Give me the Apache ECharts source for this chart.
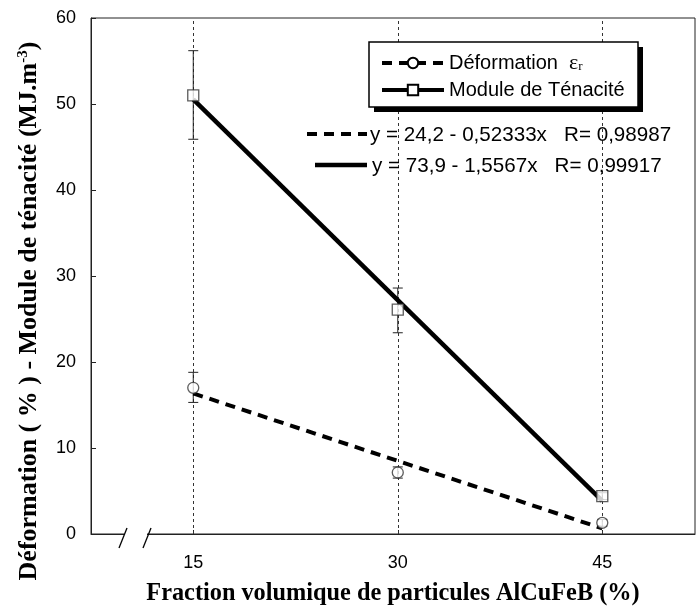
<!DOCTYPE html>
<html>
<head>
<meta charset="utf-8">
<script src="https://cdn.jsdelivr.net/npm/echarts@6/dist/echarts.min.js"></script>
<style>
html,body{margin:0;padding:0;background:#fff;}
#c{width:698px;height:611px;}
</style>
</head>
<body>
<div id="c"></div>
<script>
// ---- data ----
const xValues = [15, 30, 45];
const xTickLabels = [15, 30, 45];
const deformation = [17.0, 7.15, 1.3];
const deformationLow = [15.3, 6.5, 0.9];
const deformationHigh = [18.8, 7.8, 1.7];
const tenacite = [51.0, 26.1, 4.4];
const tenaciteLow = [45.9, 23.4, 4.0];
const tenaciteHigh = [56.2, 28.6, 4.8];
const fitX = [15, 45];
const deformationFit = [16.35, 0.65];
const tenaciteFit = [50.55, 3.85];
const seriesNames = ['Déformation', 'Module de Ténacité'];
const equationLabels = ['y = 24,2 - 0,52333x   R= 0,98987', 'y = 73,9 - 1,5567x   R= 0,99917'];
const yTitle = 'Déformation ( % ) - Module de ténacité (MJ.m';
const xTitle = 'Fraction volumique de particules AlCuFeB (%)';

const chart = echarts.init(document.getElementById('c'), null, {renderer: 'canvas'});

const pts = (ys) => xValues.map((x, i) => [x, ys[i]]);
const fit = (ys) => fitX.map((x, i) => [x, ys[i]]);
const errs = (lo, hi) => xValues.map((x, i) => [x, lo[i], hi[i]]);

function errRender(params, api) {
  const x = api.value(0);
  const p1 = api.coord([x, api.value(1)]);
  const p2 = api.coord([x, api.value(2)]);
  const w = 5;
  const st = {stroke: '#222', lineWidth: 1};
  return {
    type: 'group',
    children: [
      {type: 'line', shape: {x1: p1[0], y1: p1[1], x2: p2[0], y2: p2[1]}, style: st},
      {type: 'line', shape: {x1: p1[0] - w, y1: p1[1], x2: p1[0] + w, y2: p1[1]}, style: st},
      {type: 'line', shape: {x1: p2[0] - w, y1: p2[1], x2: p2[0] + w, y2: p2[1]}, style: st}
    ]
  };
}

const sans = 'Liberation Sans';
const serif = 'Liberation Serif';

const option = {
  backgroundColor: '#fff',
  animation: false,
  grid: {left: 91, right: 3, top: 18, bottom: 73, show: true, borderColor: '#222', borderWidth: 1, backgroundColor: 'transparent'},
  legend: {
    left: 380, top: 52, orient: 'vertical', padding: 0, itemGap: 6,
    itemWidth: 62, itemHeight: 13, selectedMode: false, z: 6,
    data: seriesNames,
    lineStyle: {width: 4},
    textStyle: {fontFamily: sans, fontSize: 20, color: '#000', lineHeight: 20,
      rich: {
        t: {fontFamily: sans, fontSize: 20, color: '#000', lineHeight: 20},
        e: {fontFamily: serif, fontSize: 22, color: '#000', lineHeight: 20},
        r: {fontFamily: serif, fontSize: 13, color: '#000', verticalAlign: 'bottom', lineHeight: 14}
      }},
    formatter: (n) => n === seriesNames[0] ? '{t|' + n + '  }{e|ε}{r|r}' : '{t|' + n + '}'
  },
  xAxis: {
    type: 'value', min: 7.5, max: 51.8,
    axisLine: {show: true, lineStyle: {color: '#222', width: 1}},
    axisTick: {show: true, inside: true, length: 4, customValues: xTickLabels, lineStyle: {color: '#222'}},
    axisLabel: {customValues: xTickLabels, fontFamily: sans, fontSize: 18, color: '#000', margin: 20},
    splitLine: {show: false},
    name: xTitle, nameLocation: 'middle', nameGap: 48,
    nameTextStyle: {fontFamily: serif, fontWeight: 'bold', fontSize: 24.3, color: '#000'}
  },
  yAxis: {
    type: 'value', min: 0, max: 60, interval: 10,
    axisLine: {show: true, lineStyle: {color: '#222', width: 1}},
    axisTick: {show: true, inside: true, length: 5, lineStyle: {color: '#222'}},
    axisLabel: {fontFamily: sans, fontSize: 18, color: '#000', margin: 15},
    splitLine: {show: false},
    name: '{a|' + yTitle + '}{s|-3}{a|)}', nameLocation: 'middle', nameGap: 49,
    nameTextStyle: {padding: [0, 70, 0, 0], rich: {
      a: {fontFamily: serif, fontWeight: 'bold', fontSize: 26, color: '#000'},
      s: {fontFamily: serif, fontWeight: 'bold', fontSize: 15, color: '#000', verticalAlign: 'top'}
    }}
  },
  series: [
    {
      name: seriesNames[0], type: 'line', data: fit(deformationFit),
      symbol: 'emptyCircle', showSymbol: false, z: 3,
      itemStyle: {color: '#000'},
      lineStyle: {color: '#000', width: 4, type: [10, 7]},
      markLine: {
        silent: true, symbol: 'none', label: {show: false}, z: 1,
        lineStyle: {color: '#333', width: 1, type: [3, 3]},
        data: xValues.map(v => ({xAxis: v}))
      }
    },
    {
      name: seriesNames[1], type: 'line', data: fit(tenaciteFit),
      symbol: 'emptyRect', showSymbol: false, z: 3,
      itemStyle: {color: '#000'},
      lineStyle: {color: '#000', width: 4.5, type: 'solid'}
    },
    {name: seriesNames[0], type: 'custom', renderItem: errRender, data: errs(deformationLow, deformationHigh), z: 2, encode: {x: 0, y: [1, 2]}},
    {name: seriesNames[1], type: 'custom', renderItem: errRender, data: errs(tenaciteLow, tenaciteHigh), z: 2, encode: {x: 0, y: [1, 2]}},
    {
      name: seriesNames[0], type: 'scatter', data: pts(deformation), symbol: 'circle', symbolSize: 11, z: 5,
      itemStyle: {color: '#fff', borderColor: '#333', borderWidth: 1.3}
    },
    {
      name: seriesNames[1], type: 'scatter', data: pts(tenacite), symbol: 'rect', symbolSize: 11, z: 5,
      itemStyle: {color: '#fff', borderColor: '#333', borderWidth: 1.3}
    }
  ],
  graphic: [
    // legend box shadow and frame
    {type: 'rect', z: 4, shape: {x: 374, y: 47, width: 269, height: 65}, style: {fill: '#000'}},
    {type: 'rect', z: 4, shape: {x: 369, y: 42, width: 269, height: 65}, style: {fill: '#fff', stroke: '#000', lineWidth: 1.5}},
    // regression annotations
    {type: 'line', z: 4, shape: {x1: 307, y1: 134, x2: 367, y2: 134}, style: {stroke: '#000', lineWidth: 4, lineDash: [10, 7]}},
    {type: 'text', z: 4, x: 370, y: 135, style: {text: equationLabels[0], font: '20.6px "Liberation Sans"', fill: '#000', textVerticalAlign: 'middle', verticalAlign: 'middle'}},
    {type: 'line', z: 4, shape: {x1: 315, y1: 165, x2: 367, y2: 165}, style: {stroke: '#000', lineWidth: 4.5}},
    {type: 'text', z: 4, x: 372, y: 166, style: {text: equationLabels[1], font: '20.6px "Liberation Sans"', fill: '#000', textVerticalAlign: 'middle', verticalAlign: 'middle'}},
    // axis break
    {type: 'rect', z: 10, shape: {x: 124, y: 533, width: 23, height: 10}, style: {fill: '#fff'}},
    {type: 'line', z: 11, shape: {x1: 119, y1: 548, x2: 127, y2: 528}, style: {stroke: '#000', lineWidth: 1.3}},
    {type: 'line', z: 11, shape: {x1: 143, y1: 548, x2: 151, y2: 528}, style: {stroke: '#000', lineWidth: 1.3}}
  ]
};
chart.setOption(option);
</script>
</body>
</html>
